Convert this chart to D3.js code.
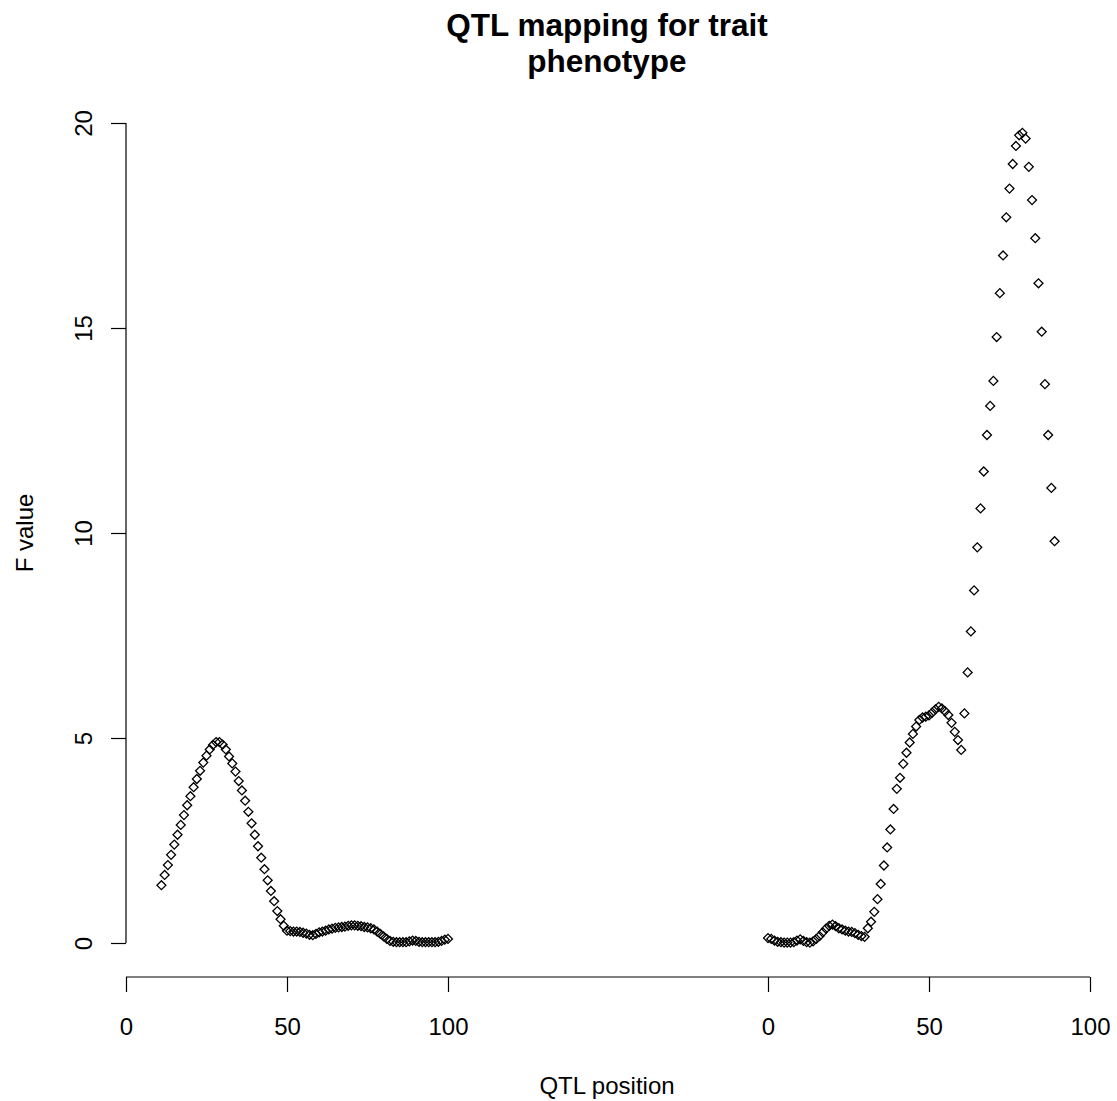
<!DOCTYPE html>
<html>
<head>
<meta charset="utf-8">
<script src="https://cdn.jsdelivr.net/npm/d3@7"></script>
<style>
  body { margin: 0; background: #fff; }
  text { font-family: "Liberation Sans", Arial, sans-serif; fill: #000; }
</style>
</head>
<body>
<svg id="chart" width="1117" height="1101"></svg>
<script>
// QTL scan, two chromosomes side by side (positions in cM)
const chr1Pos = [11,12,13,14,15,16,17,18,19,20,21,22,23,24,25,26,27,28,29,30,
    31,32,33,34,35,36,37,38,39,40,41,42,43,44,45,46,47,48,49,50,
    51,52,53,54,55,56,57,58,59,60,61,62,63,64,65,66,67,68,69,70,
    71,72,73,74,75,76,77,78,79,80,81,82,83,84,85,86,87,88,89,90,
    91,92,93,94,95,96,97,98,99,100];
const chr1F = [1.41,1.66,1.9,2.15,2.4,2.64,2.88,3.12,3.36,3.58,3.8,4.0,4.2,4.4,4.57,4.72,4.83,4.9,4.9,4.84,
    4.72,4.55,4.38,4.18,3.95,3.72,3.47,3.2,2.92,2.64,2.36,2.08,1.8,1.53,1.27,1.02,0.78,0.58,0.42,0.3,
    0.29,0.28,0.28,0.27,0.25,0.23,0.2,0.19,0.22,0.26,0.28,0.3,0.33,0.35,0.37,0.38,0.39,0.4,0.42,0.43,
    0.43,0.42,0.41,0.39,0.38,0.36,0.33,0.28,0.22,0.16,0.1,0.05,0.03,0.02,0.02,0.02,0.02,0.04,0.06,0.05,
    0.03,0.02,0.02,0.02,0.02,0.02,0.03,0.05,0.08,0.1];

const chr2Pos = [0,1,2,3,4,5,6,7,8,9,10,11,12,13,14,15,16,17,18,19,
    20,21,22,23,24,25,26,27,28,29,30,31,32,33,34,35,36,37,38,39,
    40,41,42,43,44,45,46,47,48,49,50,51,52,53,54,55,56,57,58,59,
    60,61,62,63,64,65,66,67,68,69,70,71,72,73,74,75,76,77,78,79,
    80,81,82,83,84,85,86,87,88,89];
const chr2F = [0.12,0.1,0.06,0.03,0.02,0.01,0.01,0.01,0.02,0.06,0.09,0.05,0.02,0.01,0.04,0.1,0.17,0.26,0.35,0.42,
    0.45,0.41,0.36,0.33,0.3,0.28,0.27,0.24,0.2,0.17,0.15,0.36,0.52,0.76,1.07,1.44,1.89,2.33,2.77,3.27,
    3.76,4.03,4.37,4.64,4.89,5.1,5.28,5.44,5.5,5.52,5.55,5.62,5.7,5.76,5.72,5.65,5.56,5.37,5.15,4.95,
    4.71,5.6,6.6,7.6,8.6,9.65,10.6,11.5,12.39,13.1,13.71,14.78,15.85,16.77,17.7,18.4,19.0,19.44,19.7,19.76,
    19.62,18.93,18.12,17.19,16.09,14.91,13.63,12.39,11.1,9.8];

const xTicks = [0, 50, 100];
const yTicks = [0, 5, 10, 15, 20];
const titleLines = ["QTL mapping for trait", "phenotype"];

const svg = d3.select("#chart");

var x1 = d3.scaleLinear().domain([0, 100]).range([126, 448]);
var x2 = d3.scaleLinear().domain([0, 100]).range([768, 1090]);
var y = d3.scaleLinear().domain([0, 20]).range([943, 123]);

// title
svg.selectAll(".title").data(titleLines).enter().append("text")
    .attr("class", "title")
    .attr("x", 607)
    .attr("y", (d, i) => 36 + i * 36)
    .attr("text-anchor", "middle")
    .style("font-weight", "bold")
    .style("font-size", "31.5px")
    .text(d => d);

// x axis: one baseline across both chromosomes, ticks per chromosome
const axisY = 977;
svg.append("line")
    .attr("x1", x1(0)).attr("x2", x2(100))
    .attr("y1", axisY).attr("y2", axisY)
    .attr("stroke", "#000").attr("stroke-width", 1.2);

[x1, x2].forEach(sc => {
    const g = svg.append("g")
        .attr("transform", "translate(0," + axisY + ")")
        .call(d3.axisBottom(sc).tickValues(xTicks).tickSize(15).tickPadding(26));
    g.select(".domain").remove();
    g.selectAll("line").attr("stroke-width", 1.2);
    g.selectAll("text").style("font-size", "24px").style("font-family", null);
});

// y axis, labels rotated like R's default
const yg = svg.append("g")
    .attr("transform", "translate(126,0)")
    .call(d3.axisLeft(y).tickValues(yTicks).tickSize(15));
yg.select(".domain").attr("d", "M0," + y(0) + "V" + y(20)).attr("stroke-width", 1.2);
yg.selectAll("line").attr("stroke-width", 1.2);
yg.selectAll("text")
    .attr("x", null).attr("dy", null)
    .attr("transform", "translate(-34,0) rotate(-90)")
    .attr("text-anchor", "middle")
    .style("font-size", "24px").style("font-family", null);

// axis titles
svg.append("text")
    .attr("x", 607).attr("y", 1094)
    .attr("text-anchor", "middle")
    .style("font-size", "24px")
    .text("QTL position");
svg.append("text")
    .attr("transform", "translate(33," + y(10) + ") rotate(-90)")
    .attr("text-anchor", "middle")
    .style("font-size", "24px")
    .text("F value");

// diamonds (R pch 5)
const diamond = d3.symbol().type(d3.symbolSquare).size(40);
function drawPoints(pos, vals, sc) {
    svg.append("g").selectAll("path")
        .data(pos.map((p, i) => [p, vals[i]]))
        .enter().append("path")
        .attr("d", diamond)
        .attr("transform", d => "translate(" + sc(d[0]) + "," + y(d[1]) + ") rotate(45)")
        .attr("fill", "none")
        .attr("stroke", "#000")
        .attr("stroke-width", 1.3);
}
drawPoints(chr1Pos, chr1F, x1);
drawPoints(chr2Pos, chr2F, x2);
</script>
</body>
</html>
